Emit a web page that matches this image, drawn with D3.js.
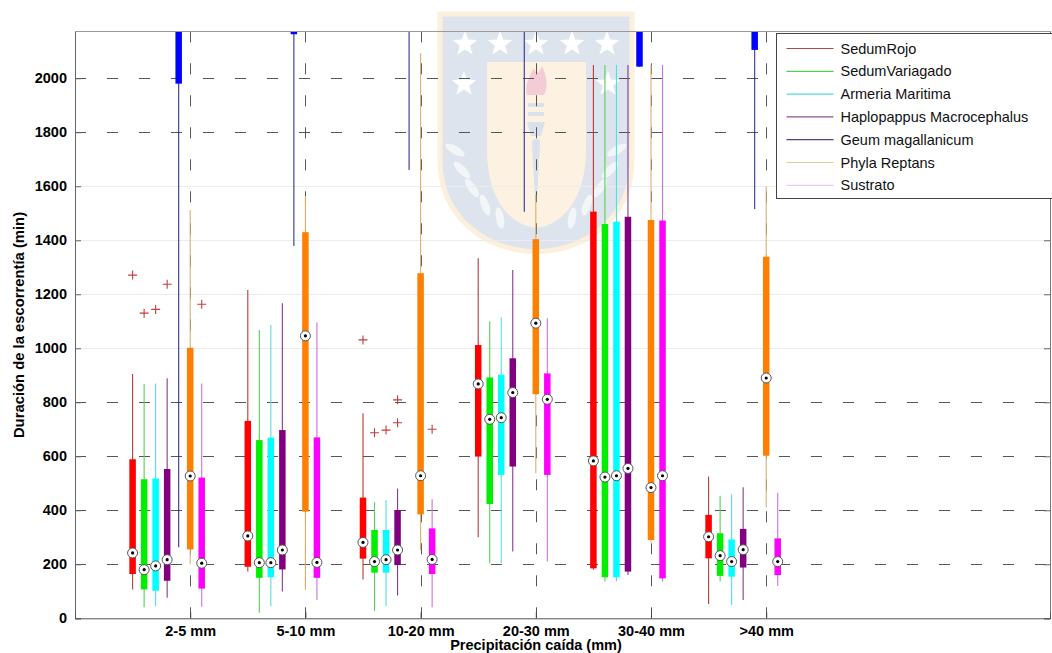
<!DOCTYPE html>
<html>
<head>
<meta charset="utf-8">
<script src="https://cdn.jsdelivr.net/npm/d3@7"></script>
<style>
  html, body { margin: 0; padding: 0; background: #fff; }
  svg { display: block; font-family: "Liberation Sans", Arial, sans-serif; }
</style>
</head>
<body>
<svg id="chart" width="1052" height="653"></svg>
<script>
// Rainfall classes (x categories)
const groups = ["2-5 mm", "5-10 mm", "10-20 mm", "20-30 mm", "30-40 mm", ">40 mm"];

// Species / substrate series
const species = ["SedumRojo", "SedumVariagado", "Armeria Maritima", "Haplopappus Macrocephalus",
                 "Geum magallanicum", "Phyla Reptans", "Sustrato"];

// Box colours (thick part) and whisker / legend colours (thin part)
const boxColors = ["#ff0000", "#00ee00", "#00ffff", "#800080", "#0000ff", "#ff8000", "#ff00ff"];
const whiskerColors = ["#b83a3a", "#55d055", "#55dede", "#8a3a8a", "#34348c", "#d9b070", "#d070e0"];
const legendColors = ["#b04848", "#58cc58", "#5cd6d6", "#8e508e", "#444488", "#e6cc98", "#e8c8ee"];

// Runoff duration statistics (min), one row per series, one value per rainfall class
const whiskerLow = [
  [107, 173, 144, 300, 180, 53],
  [41, 21, 27, 204, 136, 136],
  [45, 45, 45, 204, 136, 49],
  [76, 99, 84, 247, 160, 68],
  [263, 1379, 1660, 1506, 2043, 1516],
  [200, 105, 253, 537, 280, 411],
  [43, 68, 41, 210, 136, 120]
];
const q1 = [
  [164, 191, 221, 599, 185, 222],
  [107, 150, 169, 423, 152, 157],
  [102, 152, 169, 531, 152, 154],
  [139, 181, 197, 562, 173, 188],
  [1980, 2163, 2300, 2250, 2043, 2105],
  [255, 395, 385, 830, 290, 602],
  [110, 150, 164, 531, 148, 160]
];
const median = [
  [242, 305, 281, 868, 583, 302],
  [180, 206, 210, 737, 523, 232],
  [194, 206, 217, 743, 528, 210],
  [217, 253, 253, 836, 555, 254],
  [2300, 2500, 2600, 2500, 2300, 2400],
  [527, 1046, 528, 1093, 484, 890],
  [204, 207, 218, 811, 528, 210]
];
const q3 = [
  [589, 731, 447, 1012, 1506, 383],
  [515, 660, 327, 892, 1460, 315],
  [518, 669, 327, 902, 1469, 292],
  [553, 697, 401, 963, 1487, 331],
  [2600, 2900, 3000, 2900, 2600, 2700],
  [1002, 1430, 1278, 1404, 1475, 1339],
  [521, 670, 333, 907, 1473, 296]
];
const whiskerHigh = [
  [905, 1216, 759, 1333, 2049, 525],
  [868, 1068, 430, 1099, 2049, 454],
  [870, 1086, 438, 1115, 2049, 459],
  [889, 1167, 481, 1290, 2049, 485],
  [3400, 3500, 3600, 3600, 3000, 3300],
  [1512, 1564, 2093, 1568, 2049, 1599],
  [870, 1095, 441, 1111, 2049, 465]
];
// Outliers: [series index, class index, value]
const outliers = [
  [0, 0, 1271], [1, 0, 1130], [2, 0, 1144], [3, 0, 1237], [6, 0, 1163],
  [0, 2, 1031], [1, 2, 687], [2, 2, 697], [3, 2, 724], [3, 2, 809], [6, 2, 700]
];

const yTicks = [0, 200, 400, 600, 800, 1000, 1200, 1400, 1600, 1800, 2000];

// ---- layout ----
const svg = d3.select("#chart");
const plot = { left: 75, right: 1050, top: 31, bottom: 618.3 };

const x = d3.scaleLinear().domain([0, 8.4635]).range([plot.left, plot.right]);
const y = d3.scaleLinear().domain([0, 2175]).range([plot.bottom, plot.top]);
const offset = i => (i - 5) * 0.1;

// ---- background emblem ----
const emb = svg.append("g").attr("class", "emblem").attr("opacity", 0.85);
emb.append("path")
  .attr("d", "M440,14 H632 V160 C632,215 590,250 536,252 C482,250 440,215 440,160 Z")
  .attr("fill", "#d8e0ec").attr("stroke", "#fbeed6").attr("stroke-width", 5);
emb.append("path")
  .attr("d", "M487,62 H586 V150 C586,195 565,225 536,228 C507,225 487,195 487,150 Z")
  .attr("fill", "#fdefdc");
function star(cx, cy, r) {
  const pts = [];
  for (let k = 0; k < 10; k++) {
    const a = -Math.PI / 2 + k * Math.PI / 5;
    const rr = k % 2 === 0 ? r : r * 0.42;
    pts.push([cx + rr * Math.cos(a), cy + rr * Math.sin(a)]);
  }
  return "M" + pts.map(p => p.join(",")).join("L") + "Z";
}
[[465, 44], [500, 44], [536, 44], [572, 44], [607, 44], [464, 84], [608, 84]].forEach(([cx, cy]) => {
  emb.append("path").attr("d", star(cx, cy, 13)).attr("fill", "#ffffff");
});
// torch
emb.append("path").attr("d", "M527,95 C524,85 530,75 534,68 C536,76 540,72 542,66 C547,76 548,88 544,95 Z")
  .attr("fill", "#f3c4d2");
emb.append("rect").attr("x", 528).attr("y", 103).attr("width", 16).attr("height", 4).attr("fill", "#d3dcea");
emb.append("rect").attr("x", 528).attr("y", 112).attr("width", 16).attr("height", 4).attr("fill", "#d3dcea");
emb.append("path").attr("d", "M527,122 H545 L541,136 H531 Z").attr("fill", "#d3dcea");
emb.append("path").attr("d", "M532,142 C532,138 540,138 540,142 L537,200 H535 Z").attr("fill", "#d3dcea");
// laurel leaves
const leaves = [[455, 150, -60], [462, 170, -45], [472, 188, -35], [485, 205, -20], [500, 218, -10],
                [617, 150, 60], [610, 170, 45], [600, 188, 35], [587, 205, 20], [572, 218, 10]];
leaves.forEach(([cx, cy, a]) => {
  emb.append("ellipse").attr("cx", cx).attr("cy", cy).attr("rx", 4).attr("ry", 11)
    .attr("transform", `rotate(${a},${cx},${cy})`).attr("fill", "#f1f4f8");
});

// ---- grid ----
const grid = svg.append("g").attr("class", "grid");
yTicks.filter(t => t > 0).forEach(t => {
  const faint = t >= 1000 && t <= 1600;
  grid.append("line")
    .attr("x1", plot.left).attr("x2", plot.right)
    .attr("y1", Math.round(y(t)) + 0.5).attr("y2", Math.round(y(t)) + 0.5)
    .attr("stroke", faint ? "#ececec" : "#555")
    .attr("stroke-width", 1)
    .attr("stroke-dasharray", faint ? null : "11,21");
});
groups.forEach((g, j) => {
  grid.append("line")
    .attr("x1", Math.round(x(j + 1)) + 0.5).attr("x2", Math.round(x(j + 1)) + 0.5)
    .attr("y1", plot.bottom).attr("y2", plot.top)
    .attr("stroke", "#555").attr("stroke-width", 1)
    .attr("stroke-dasharray", "11,21");
});

// ---- boxes ----
svg.append("clipPath").attr("id", "plotClip")
  .append("rect").attr("x", plot.left).attr("y", plot.top)
  .attr("width", plot.right - plot.left).attr("height", plot.bottom - plot.top);
const data = svg.append("g").attr("clip-path", "url(#plotClip)");

const boxW = 6.5;
species.forEach((s, i) => {
  groups.forEach((g, j) => {
    const cx = x(j + 1 + offset(i));
    data.append("line")
      .attr("x1", cx).attr("x2", cx)
      .attr("y1", y(whiskerLow[i][j])).attr("y2", y(whiskerHigh[i][j]))
      .attr("stroke", whiskerColors[i]).attr("stroke-width", 1.1);
  });
});
species.forEach((s, i) => {
  groups.forEach((g, j) => {
    const cx = x(j + 1 + offset(i));
    data.append("rect")
      .attr("x", cx - boxW / 2).attr("width", boxW)
      .attr("y", y(q3[i][j])).attr("height", y(q1[i][j]) - y(q3[i][j]))
      .attr("fill", boxColors[i]);
  });
});
species.forEach((s, i) => {
  groups.forEach((g, j) => {
    const cx = x(j + 1 + offset(i));
    const cy = y(median[i][j]);
    data.append("circle").attr("cx", cx).attr("cy", cy).attr("r", 5)
      .attr("fill", "#fff").attr("stroke", "#555").attr("stroke-width", 1);
    data.append("circle").attr("cx", cx).attr("cy", cy).attr("r", 1.6).attr("fill", "#000");
  });
});
outliers.forEach(([i, j, v]) => {
  const cx = x(j + 1 + offset(i));
  const cy = y(v);
  data.append("path")
    .attr("d", `M${cx - 4.5},${cy}H${cx + 4.5}M${cx},${cy - 4.5}V${cy + 4.5}`)
    .attr("stroke", "#c83c3c").attr("stroke-width", 1.1).attr("fill", "none");
});

// ---- axes ----
const yAxis = d3.axisLeft(y).tickValues(yTicks).tickSize(-6).tickPadding(8).tickFormat(d3.format("d"));
const gy = svg.append("g").attr("transform", `translate(${plot.left},0)`).call(yAxis);
gy.select(".domain").attr("stroke", "#666");
gy.selectAll(".tick line").attr("stroke", "#666");
gy.selectAll(".tick text").attr("font-size", 14.5).attr("font-weight", "bold")
  .attr("fill", "#000").attr("font-family", "Liberation Sans, Arial, sans-serif");

const yAxisR = d3.axisRight(y).tickValues(yTicks).tickSize(-6).tickFormat("");
const gyr = svg.append("g").attr("transform", `translate(${plot.right},0)`).call(yAxisR);
gyr.select(".domain").attr("stroke", "#777");
gyr.selectAll(".tick line").attr("stroke", "#666");

const xAxis = d3.axisBottom(x).tickValues(groups.map((g, j) => j + 1))
  .tickFormat((d, k) => groups[k]).tickSize(-6).tickPadding(7);
const gx = svg.append("g").attr("transform", `translate(0,${plot.bottom})`).call(xAxis);
gx.select(".domain").attr("stroke", "#555");
gx.selectAll(".tick line").attr("stroke", "#444");
gx.selectAll(".tick text").attr("font-size", 14.5).attr("font-weight", "bold")
  .attr("fill", "#000").attr("font-family", "Liberation Sans, Arial, sans-serif");

// top border
svg.append("line").attr("x1", plot.left).attr("x2", plot.right)
  .attr("y1", plot.top + 0.5).attr("y2", plot.top + 0.5).attr("stroke", "#999");

// axis titles
svg.append("text")
  .attr("x", 536).attr("y", 649.5)
  .attr("text-anchor", "middle").attr("font-size", 14.5).attr("font-weight", "bold")
  .text("Precipitación caída (mm)");
svg.append("text")
  .attr("transform", "translate(24,325) rotate(-90)")
  .attr("text-anchor", "middle").attr("font-size", 14.8).attr("font-weight", "bold")
  .text("Duración de la escorrentía (min)");

// ---- legend ----
const lg = svg.append("g").attr("transform", "translate(776.5,33.5)");
lg.append("rect").attr("width", 300).attr("height", 165)
  .attr("fill", "#fff").attr("stroke", "#444").attr("stroke-width", 1);
species.forEach((s, i) => {
  const yy = 15 + i * 22.8;
  lg.append("line").attr("x1", 10).attr("x2", 57).attr("y1", yy).attr("y2", yy)
    .attr("stroke", legendColors[i]).attr("stroke-width", 1.2);
  lg.append("text").attr("x", 64).attr("y", yy + 5).attr("font-size", 14.5)
    .attr("fill", "#111").text(s);
});
</script>
</body>
</html>
